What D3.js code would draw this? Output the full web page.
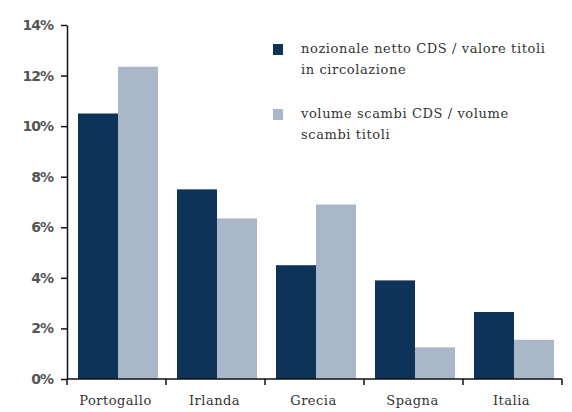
<!DOCTYPE html>
<html>
<head>
<meta charset="utf-8">
<script src="https://cdn.jsdelivr.net/npm/d3@7"></script>
<style>
body { margin: 0; background: #fff; }
</style>
</head>
<body>
<div id="chart"></div>
<script>
const categories = ['Portogallo', 'Irlanda', 'Grecia', 'Spagna', 'Italia'];
const nozionale = [10.5, 7.5, 4.5, 3.9, 2.65];
const volume = [12.35, 6.35, 6.9, 1.25, 1.55];
const yTicks = [0, 2, 4, 6, 8, 10, 12, 14];
const seriesNames = ['nozionale netto CDS / valore titoli|in circolazione', 'volume scambi CDS / volume|scambi titoli'];
const colors = ['#0d3458', '#a9b7c8'];

const margin = { top: 25, right: 10, bottom: 33, left: 67 };
const width = 562 - margin.left;
const height = 379 - margin.top;

const svg = d3.select('#chart')
    .append('svg')
    .attr('width', 572)
    .attr('height', 412)
    .append('g')
    .attr('transform', `translate(${margin.left}, ${margin.top})`);

const xScale = d3.scaleBand()
    .range([0, width])
    .domain(categories);

const xInner = d3.scaleBand()
    .domain([0, 1])
    .range([11, 91]);

const yScale = d3.scaleLinear()
    .range([height, 0])
    .domain([0, 14]);

// bars
const series = [nozionale, volume];
series.forEach((vals, s) => {
    svg.selectAll('.bar' + s)
        .data(categories)
        .enter()
        .append('rect')
        .attr('x', d => xScale(d) + xInner(s))
        .attr('y', (d, i) => yScale(vals[i]))
        .attr('width', xInner.bandwidth())
        .attr('height', (d, i) => height - yScale(vals[i]))
        .attr('fill', colors[s]);
});

// y axis
const yAxis = svg.append('g')
    .call(d3.axisLeft(yScale).tickValues(yTicks).tickFormat(d => d + '%').tickSize(6).tickSizeOuter(0));
yAxis.select('.domain').attr('stroke', '#111').attr('stroke-width', 1.5);
yAxis.selectAll('.tick line').attr('stroke', '#111').attr('stroke-width', 1.5);
yAxis.selectAll('.tick text')
    .attr('x', -14)
    .attr('font-family', 'DejaVu Sans')
    .attr('font-size', 14)
    .attr('font-weight', 'bold')
    .attr('fill', '#555')
    .attr('letter-spacing', -1);

// x axis with ticks on category boundaries
const xAxisG = svg.append('g')
    .attr('transform', `translate(0, ${height})`);
xAxisG.append('line')
    .attr('x1', 0).attr('x2', width)
    .attr('stroke', '#111').attr('stroke-width', 1.5);
const bounds = categories.map(d => xScale(d)).concat([width]);
xAxisG.selectAll('.xt')
    .data(bounds)
    .enter()
    .append('line')
    .attr('x1', d => d).attr('x2', d => d)
    .attr('y1', 0).attr('y2', 6)
    .attr('stroke', '#111').attr('stroke-width', 1.5);
xAxisG.selectAll('.xl')
    .data(categories)
    .enter()
    .append('text')
    .attr('x', d => xScale(d) + xScale.bandwidth() / 2 - 1)
    .attr('y', 26)
    .attr('text-anchor', 'middle')
    .attr('font-family', 'DejaVu Serif')
    .attr('font-size', 13)
    .attr('fill', '#333')
    .attr('letter-spacing', 0.5)
    .text(d => d);

// legend
const legend = svg.append('g')
    .attr('transform', `translate(${273 - margin.left}, ${44 - margin.top})`);
seriesNames.forEach((name, i) => {
    const g = legend.append('g').attr('transform', `translate(0, ${i * 65})`);
    g.append('rect')
        .attr('width', 10).attr('height', 11)
        .attr('fill', colors[i]);
    name.split('|').forEach((line, j) => {
        g.append('text')
            .attr('x', 28)
            .attr('y', 9 + j * 21)
            .attr('font-family', 'DejaVu Serif')
            .attr('font-size', 13)
            .attr('fill', '#333')
            .attr('letter-spacing', 0.6)
            .text(line);
    });
});
</script>
</body>
</html>
